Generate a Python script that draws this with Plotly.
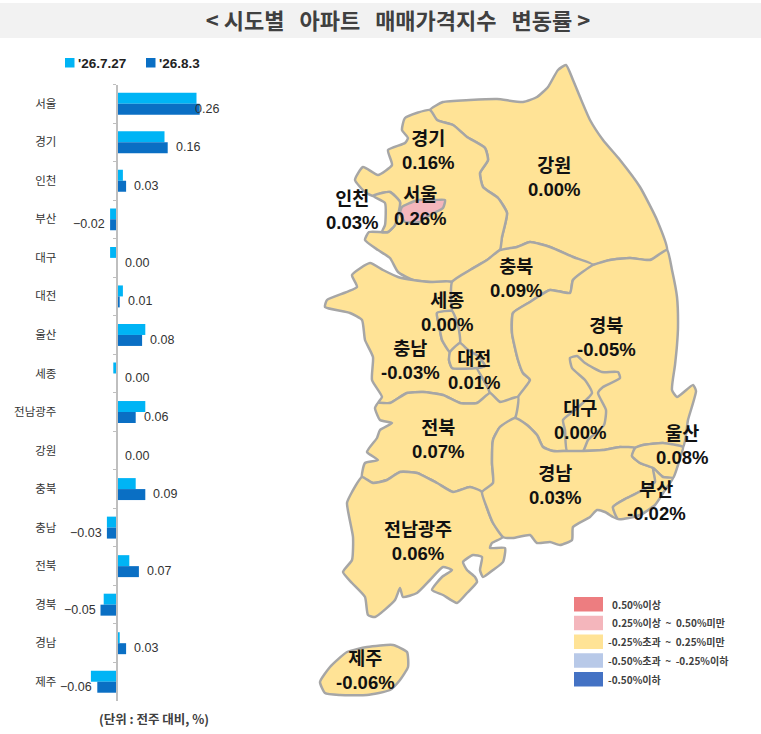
import plotly.graph_objects as go

WIDTH = 761
HEIGHT = 734

# Weekly change by region, left bar chart
categories = ['서울', '경기', '인천', '부산', '대구', '대전', '울산', '세종',
              '전남광주', '강원', '충북', '충남', '전북', '경북', '경남', '제주']
prev_week = [0.25, 0.15, 0.02, -0.02, -0.02, 0.02, 0.09, -0.01,
             0.09, 0.00, 0.06, -0.03, 0.04, -0.04, 0.01, -0.08]
this_week = [0.26, 0.16, 0.03, -0.02, 0.00, 0.01, 0.08, 0.00,
             0.06, 0.00, 0.09, -0.03, 0.07, -0.05, 0.03, -0.06]
series_names = ["'26.7.27", "'26.8.3"]
series_colors = ['#00B4F5', '#0A6FC4']

# Legend of the map
legend_labels = ['0.50%이상', '0.25%이상\u00a0\u00a0~\u00a0\u00a00.50%미만', '-0.25%초과\u00a0\u00a0~\u00a0\u00a00.25%미만',
                 '-0.50%초과\u00a0\u00a0~\u00a0\u00a0-0.25%이하', '-0.50%이하']
legend_colors = ['#ED7D80', '#F4B6BC', '#FFE396', '#B8C9E8', '#4472C4']

outlines = {
    '강원': [(430, 110), (443, 102), (470, 100), (497, 99), (523, 102), (537, 97), (548, 87), (558, 70),
           (566, 65), (573, 80), (580, 97), (590, 120), (603, 140), (620, 160), (640, 187), (657, 220),
           (667, 250), (650, 260), (630, 258), (610, 260), (593, 265), (573, 257), (550, 247), (530, 242),
           (517, 247), (500, 250), (502, 237), (507, 213), (498, 198), (483, 187), (480, 173), (488, 160),
           (485, 148), (467, 137), (453, 125), (437, 120)],
    '경기': [(430, 110), (405, 118), (402, 130), (408, 138), (405, 143), (388, 150), (392, 165), (378, 175),
           (363, 167), (355, 180), (365, 192), (373, 196), (382, 193), (390, 192), (400, 202), (395, 225),
           (388, 232), (369, 232), (365, 240), (378, 250), (390, 258), (398, 272), (413, 280), (430, 282),
           (452, 282), (470, 270), (487, 260), (500, 250), (502, 237), (507, 213), (498, 198), (483, 187),
           (480, 173), (488, 160), (485, 148), (467, 137), (453, 125), (437, 120)],
    '인천': [(373, 196), (382, 193), (390, 192), (400, 202), (395, 225), (388, 232), (382, 232), (385, 225),
           (385, 203)],
    '서울': [(402, 207), (410, 203), (418, 200), (435, 200), (445, 200), (443, 208), (432, 214), (425, 218),
           (420, 222), (405, 222), (400, 213)],
    '충남': [(452, 282), (430, 282), (413, 280), (398, 277), (383, 270), (370, 263), (352, 275), (357, 287),
           (327, 300), (325, 307), (350, 313), (362, 320), (365, 340), (373, 357), (372, 380), (382, 397),
           (378, 403), (390, 403), (407, 393), (423, 392), (443, 395), (460, 403), (477, 403), (490, 393),
           (488, 388), (482, 377), (477, 368), (452, 368), (449, 360), (450, 352), (442, 340), (439, 325),
           (437, 313), (452, 311)],
    '충북': [(452, 282), (470, 270), (487, 260), (500, 250), (517, 247), (530, 242), (550, 247), (573, 257),
           (593, 265), (573, 280), (570, 293), (550, 290), (530, 302), (513, 313), (512, 333), (518, 360),
           (523, 373), (530, 380), (518, 397), (500, 402), (490, 393), (488, 388), (482, 377), (477, 368),
           (485, 366), (478, 356), (468, 350), (460, 343), (458, 325), (452, 311)],
    '세종': [(437, 313), (452, 311), (458, 325), (460, 343), (450, 352), (442, 340), (439, 325)],
    '대전': [(450, 352), (460, 343), (468, 350), (478, 356), (485, 366), (477, 368), (452, 368), (449, 360)],
    '경북': [(593, 265), (610, 260), (630, 258), (650, 260), (667, 250), (672, 270), (677, 297), (678, 327),
           (677, 345), (675, 365), (672, 390), (677, 397), (693, 385), (696, 391), (688, 420), (683, 447),
           (663, 443), (643, 445), (635, 448), (620, 447), (603, 450), (583, 451), (567, 451), (553, 451),
           (543, 447), (537, 435), (527, 425), (515, 418), (518, 397), (530, 380), (523, 373), (518, 360),
           (512, 333), (513, 313), (530, 302), (550, 290), (570, 293), (573, 280)],
    '대구': [(570, 358), (577, 356), (585, 363), (602, 372), (618, 372), (620, 378), (603, 387), (598, 393),
           (606, 410), (604, 425), (588, 440), (583, 451), (567, 451), (565, 430), (563, 420), (575, 410),
           (592, 393), (585, 380), (572, 368)],
    '전북': [(378, 403), (390, 403), (407, 393), (423, 392), (443, 395), (460, 403), (477, 403), (490, 393),
           (500, 402), (518, 397), (515, 418), (500, 427), (493, 440), (492, 463), (493, 483), (482, 492),
           (470, 487), (453, 492), (437, 483), (417, 473), (400, 472), (387, 480), (373, 483), (362, 477),
           (365, 463), (378, 460), (367, 452), (377, 438), (380, 430), (392, 423), (380, 420), (375, 408)],
    '전남광주': [(362, 477), (373, 483), (387, 480), (400, 472), (417, 473), (437, 483), (453, 492), (470, 487),
             (482, 492), (487, 508), (493, 523), (503, 537), (492, 543), (490, 548), (505, 548), (503, 562),
             (493, 570), (483, 577), (480, 570), (482, 557), (473, 555), (463, 562), (467, 570), (475, 577),
             (477, 582), (467, 593), (457, 603), (443, 595), (432, 590), (442, 577), (452, 570), (443, 567),
             (430, 580), (417, 593), (403, 597), (400, 588), (395, 600), (375, 617), (368, 615), (365, 597),
             (352, 583), (343, 572), (352, 560), (353, 537), (347, 503), (352, 492)],
    '경남': [(515, 418), (527, 425), (537, 435), (543, 447), (553, 451), (567, 451), (583, 451), (603, 450),
           (620, 447), (635, 448), (632, 456), (640, 463), (653, 468), (655, 482), (643, 490), (627, 498),
           (613, 507), (618, 519), (613, 517), (605, 512), (597, 510), (590, 517), (573, 527), (572, 540),
           (560, 545), (550, 542), (537, 543), (530, 535), (513, 538), (503, 537), (493, 523), (487, 508),
           (482, 492), (493, 483), (492, 463), (493, 440), (500, 427)],
    '울산': [(635, 448), (643, 445), (663, 443), (683, 447), (681, 455), (678, 465), (673, 478), (663, 477),
           (653, 468), (640, 463), (632, 456)],
    '부산': [(653, 468), (663, 477), (673, 478), (665, 490), (655, 505), (640, 515), (618, 519), (613, 507),
           (627, 498), (643, 490), (655, 482)],
    '제주': [(320, 682), (330, 667), (347, 652), (367, 647), (393, 645), (407, 652), (408, 667), (400, 680),
           (390, 690), (367, 695), (340, 695), (325, 693)],
}

# Centre of the name/rate label of each region, page pixels
label_centres = {
    '서울': (420, 206), '경기': (428, 150), '인천': (352, 210), '부산': (656, 501), '대구': (580, 420),
    '대전': (474, 370), '울산': (682, 445), '세종': (447, 312), '전남광주': (418, 541), '강원': (554, 177),
    '충북': (516, 278), '충남': (410, 360), '전북': (438, 439), '경북': (606, 337), '경남': (555, 485),
    '제주': (365, 670),
}


def fill_color(rate):
    # Same classes as the map legend
    if rate >= 0.50:
        return legend_colors[0]
    if rate >= 0.25:
        return legend_colors[1]
    if rate > -0.25:
        return legend_colors[2]
    if rate > -0.50:
        return legend_colors[3]
    return legend_colors[4]


def fmt(value):
    return f'{value:.2f}'.replace('-', '−')


BOLD = '"Liberation Sans", "Noto Sans CJK KR", sans-serif'
CJK = '"Noto Sans CJK KR", sans-serif'
TEXT = '#333333'

# Pixel frame of the bar chart: zero line at x=116.5, 320 px per 1 %
BAR_LEFT, BAR_RIGHT, BAR_ZERO, PX_PER_UNIT = 60, 230, 116.5, 320
BAR_TOP, BAR_BOTTOM = 84.5, 701

fig = go.Figure()

fig.add_trace(go.Bar(y=categories, x=prev_week, name=series_names[0], orientation='h',
                     marker=dict(color=series_colors[0], line_width=0), xaxis='x', yaxis='y'))
fig.add_trace(go.Bar(y=categories, x=this_week, name=series_names[1], orientation='h',
                     marker=dict(color=series_colors[1], line_width=0), xaxis='x', yaxis='y'))

rates = dict(zip(categories, this_week))
for region, points in outlines.items():
    fig.add_trace(go.Scatter(
        x=[p[0] for p in points] + [points[0][0]],
        y=[p[1] for p in points] + [points[0][1]],
        mode='lines', fill='toself', fillcolor=fill_color(rates[region]),
        line=dict(color='#A6A6A6', width=2.5, shape='spline', smoothing=0.5),
        name=region, hoverinfo='name', xaxis='x2', yaxis='y2'
    ))

annotations = []

# Value labels next to the bars
top_value = max(this_week)
for category, value in zip(categories, this_week):
    if value < 0:
        anchor, shift = 'right', -3
    elif value == top_value:
        anchor, shift = 'left', -7   # the largest label sits back on its bar
    else:
        anchor, shift = 'left', 6
    annotations.append(dict(x=value, y=category, xref='x', yref='y', text=fmt(value), showarrow=False,
                            xanchor=anchor, xshift=shift, yshift=-5,
                            font=dict(family=BOLD, size=12.5, color=TEXT)))

# Region labels on the map
for region, (cx, cy) in label_centres.items():
    annotations.append(dict(x=cx, y=cy, xref='x2', yref='y2', text=f'<b>{region}<br>{fmt(rates[region])}%</b>'.replace('−', '-'),
                            showarrow=False, xanchor='center', yanchor='middle',
                            font=dict(family=BOLD, size=18.5, color='#111111')))

shapes = [dict(type='rect', xref='paper', yref='paper', x0=0, x1=1, y0=1 - 38 / HEIGHT, y1=1 - 3 / HEIGHT,
               fillcolor='#F2F2F2', line_width=0, layer='below')]

# Series legend, swatches drawn by hand so they sit as tight as in the original
for name, color, x0 in zip(series_names, series_colors, [65, 146]):
    shapes.append(dict(type='rect', xref='x2', yref='y2', x0=x0, x1=x0 + 9.5, y0=58, y1=67.5,
                       fillcolor=color, line_width=0))
    annotations.append(dict(x=x0 + 11, y=63, xref='x2', yref='y2', text=f'<b>{name}</b>', showarrow=False,
                            xanchor='left', yanchor='middle',
                            font=dict(family=BOLD, size=13.5, color='#222222')))

# Map legend
for i, (label, color) in enumerate(zip(legend_labels, legend_colors)):
    top = 597 + i * 18.75
    shapes.append(dict(type='rect', xref='x2', yref='y2', x0=574, x1=603, y0=top, y1=top + 14.5,
                       fillcolor=color, line_width=0))
    annotations.append(dict(x=610 if i < 2 else 606, y=top + 7, xref='x2', yref='y2', text=f'<b>{label}</b>',
                            showarrow=False, xanchor='left', yanchor='middle',
                            font=dict(family=CJK, size=10, color='#404040')))

# Unit note
annotations.append(dict(x=154, y=718, xref='x2', yref='y2', text='<b>(단위 : 전주 대비, %)</b>', showarrow=False,
                        font=dict(family=CJK, size=12.5, color='#404040')))

fig.update_layout(
    width=WIDTH, height=HEIGHT, autosize=False,
    margin=dict(l=0, r=0, t=0, b=0),
    paper_bgcolor='white', plot_bgcolor='rgba(0,0,0,0)',
    title=dict(text='<b>&lt;\u00a0시도별\u00a0\u00a0\u00a0아파트\u00a0\u00a0\u00a0매매가격지수\u00a0\u00a0\u00a0변동률\u00a0&gt;</b>',
               x=398 / WIDTH, xanchor='center', y=1 - 21 / HEIGHT, yanchor='middle',
               font=dict(family=CJK, size=22, color='#404040')),
    barmode='group', bargap=0.43, bargroupgap=0,
    xaxis=dict(domain=[BAR_LEFT / WIDTH, BAR_RIGHT / WIDTH],
               range=[(BAR_LEFT - BAR_ZERO) / PX_PER_UNIT, (BAR_RIGHT - BAR_ZERO) / PX_PER_UNIT],
               visible=False, anchor='y', fixedrange=True),
    yaxis=dict(domain=[1 - BAR_BOTTOM / HEIGHT, 1 - BAR_TOP / HEIGHT], anchor='free', position=BAR_ZERO / WIDTH,
               autorange='reversed', type='category', showgrid=False, zeroline=False,
               showline=True, linecolor='#BFBFBF', linewidth=1.5,
               ticks='outside', ticklen=3, tickcolor='#BFBFBF', tickson='boundaries',
               ticklabelstandoff=57, tickfont=dict(family=CJK, size=11.5, color=TEXT), fixedrange=True),
    xaxis2=dict(domain=[0, 1], range=[0, WIDTH], visible=False, anchor='y2', fixedrange=True),
    yaxis2=dict(domain=[0, 1], range=[HEIGHT, 0], visible=False, anchor='x2', fixedrange=True),
    shapes=shapes,
    annotations=annotations,
    showlegend=False,
)

# The browser's default body margin would push everything 8 px in
fig.write_html("out.html", config={'displayModeBar': False},
               post_script="document.body.style.margin = '0';")
